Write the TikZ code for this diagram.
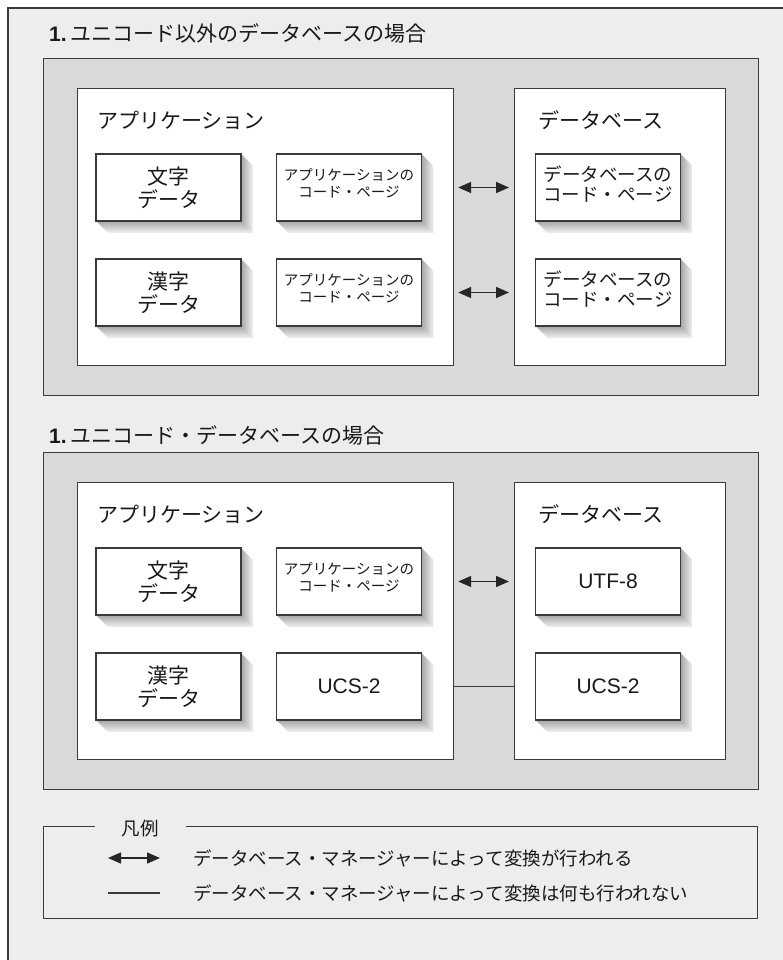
\documentclass[tikz,border=0pt]{standalone}
\usepackage{fontspec}
\setmainfont{Liberation Sans}
\newfontfamily\jp{Noto Sans CJK JP}
\usetikzlibrary{arrows.meta,positioning}

\definecolor{pagegray}{HTML}{EDEDED}
\definecolor{panelgray}{HTML}{D9D9D9}
\definecolor{edgegray}{HTML}{3A3A3A}

\newcommand\bigjp{\jp\fontsize{21}{23}\selectfont}
\newcommand\midjp{\jp\fontsize{18.5}{20.5}\selectfont}
\newcommand\smalljp{\jp\fontsize{14.5}{17}\selectfont}
\newcommand\latin{\fontsize{21}{23}\selectfont}

\tikzset{
  panel/.style={draw=edgegray,fill=panelgray,line width=1.2pt,anchor=north west,inner sep=0pt},
  layerbox/.style={draw=edgegray,fill=white,line width=1.2pt,anchor=north west,inner sep=0pt},
  cell/.style={draw=edgegray,fill=white,line width=1.2pt,minimum width=145pt,minimum height=67pt,inner sep=0pt,align=center,text=black!90},
  lbl/.style={anchor=west,inner sep=0pt,text=black!90,font=\bigjp},
  legtxt/.style={anchor=west,inner sep=0pt,text=black!90,font=\midjp},
  conv/.style={{Triangle[length=13pt,width=11pt]}-{Triangle[length=13pt,width=11pt]},line width=1.5pt,black!85,shorten <=4pt,shorten >=5pt},
  plain/.style={line width=1.2pt,edgegray}
}

\begin{document}
\begin{tikzpicture}[x=1pt,y=-1pt]
\useasboundingbox (0,0) rectangle (783,960);
% page
\fill[pagegray] (8,8) rectangle (783,960);
\draw[edgegray,line width=1.4pt] (8,960) -- (8,8) -- (783,8);

% case without unicode
\node[lbl] (title1) at (49,33) {{\normalfont\bfseries 1.}\,ユニコード以外のデータベースの場合};
\node[panel,minimum width=715pt,minimum height=337pt] (pan1) at (43,58) {};
\node[layerbox,minimum width=376pt,minimum height=277pt] (app1) at (77,88) {};
\node[layerbox,minimum width=211pt,minimum height=277pt] (db1) at (514,88) {};
\node[lbl] (appname1) at (97,120) {アプリケーション};
\node[lbl] (dbname1) at (538,120) {データベース};

% unicode case
\node[lbl] (title2) at (49,435) {{\normalfont\bfseries 1.}\,ユニコード・データベースの場合};
\node[panel,minimum width=715pt,minimum height=337pt] (pan2) at (43,452) {};
\node[layerbox,minimum width=376pt,minimum height=277pt] (app2) at (77,482) {};
\node[layerbox,minimum width=211pt,minimum height=277pt] (db2) at (514,482) {};
\node[lbl] (appname2) at (97,514) {アプリケーション};
\node[lbl] (dbname2) at (538,514) {データベース};

% cells with shadows
\foreach \nm/\cx/\cy/\fnt/\txt in {
  chr1/168.5/187.5/\bigjp/{文字\\データ},
  acp1/349/187.5/\smalljp/{アプリケーションの\\コード・ページ\\[-7pt]},
  kan1/168.5/292.5/\bigjp/{漢字\\データ},
  acp2/349/292.5/\smalljp/{アプリケーションの\\コード・ページ\\[-7pt]},
  dcp1/608/187.5/\midjp/{データベースの\\コード・ページ\\[-12.5pt]},
  dcp2/608/292.5/\midjp/{データベースの\\コード・ページ\\[-12.5pt]},
  chr2/168.5/581.5/\bigjp/{文字\\データ},
  acp3/349/581.5/\smalljp/{アプリケーションの\\コード・ページ\\[-7pt]},
  kan2/168.5/686.5/\bigjp/{漢字\\データ},
  ucs1/349/686.5/\latin/{UCS-2},
  utf/608/581.5/\latin/{UTF-8},
  ucs2/608/686.5/\latin/{UCS-2}}{
  \shade[left color=gray!70,right color=gray!10] (\cx+72.5,\cy-33.5) -- ++(12,12) -- ++(0,67) -- ++(-12,-12) -- cycle;
  \shade[top color=gray!70,bottom color=gray!10] (\cx-72.5,\cy+33.5) -- ++(145,0) -- ++(12,12) -- ++(-145,0) -- cycle;
  \node[cell,font=\fnt] (\nm) at (\cx,\cy) {\txt};
}

% connectors
\draw[conv] (app1.east |- dcp1.west) -- (db1.west |- dcp1.west);
\draw[conv] (app1.east |- dcp2.west) -- (db1.west |- dcp2.west);
\draw[conv] (app2.east |- utf.west) -- (db2.west |- utf.west);
\draw[plain] (app2.east |- ucs2.west) -- (db2.west |- ucs2.west);

% legend
\node[draw=edgegray,line width=1.2pt,anchor=north west,minimum width=714pt,minimum height=92pt,inner sep=0pt] (legend) at (43,826) {};
\node[fill=pagegray,inner xsep=27pt,inner ysep=2pt,text=black!90,font=\midjp] (legname) at (140,829) {凡例};
\coordinate (keyA) at (108,858);
\coordinate (keyB) at (108,893);
\draw[conv,shorten <=0pt,shorten >=0pt] (keyA) -- ++(52,0);
\draw[plain] (keyB) -- ++(52,0);
\node[legtxt] (legA) at (193,858) {データベース・マネージャーによって変換が行われる};
\node[legtxt] (legB) at (193,893) {データベース・マネージャーによって変換は何も行われない};
\end{tikzpicture}
\end{document}
